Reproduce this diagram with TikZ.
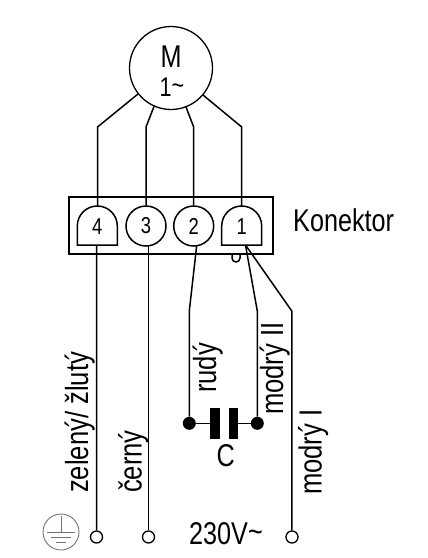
\documentclass[tikz,border=0pt]{standalone}
\usepackage{fontspec}
\setmainfont[FakeStretch=0.8]{Liberation Sans}
\begin{document}
\begin{tikzpicture}[x=1pt,y=-1pt,
  wire/.style={line width=1.5pt,line join=miter},
  shapeline/.style={line width=1.5pt},
  round term/.style={circle,draw,line width=1.5pt,minimum size=40pt,inner sep=0pt,font=\fontsize{23}{23}\selectfont},
  txt/.style={font=\fontsize{31.5}{32}\selectfont,inner sep=0pt},
  term txt/.style={font=\fontsize{23}{23}\selectfont,inner sep=0pt},
  lab/.style={font=\fontsize{32}{32}\selectfont,inner sep=0pt,rotate=90,anchor=base west},
  open end/.style={circle,draw,line width=1.3pt,minimum size=12pt,inner sep=0pt,fill=white},
  joint/.style={circle,fill=black,minimum size=13pt,inner sep=0pt},
  plate/.style={fill=black,draw=none},
  earthline/.style={line width=0.9pt,draw=black!55}]
\useasboundingbox (0,0) rectangle (428,558);
% motor
\node[circle,draw,line width=1.3pt,minimum size=83pt,inner sep=0pt] (motor) at (171,68) {};
\node[txt] (m) at (171,57) {M};
\node[txt,font=\fontsize{27}{27}\selectfont] (one) at (172,87) {1\raisebox{2pt}{\textasciitilde}};
% connector box
\node[draw,line width=1.5pt,minimum width=204pt,minimum height=57pt,inner sep=0pt] (box) at (171,225.5) {};
% knots between motor and box
\coordinate (k4) at (97.5,127);
\coordinate (k3) at (146,127);
\coordinate (k2) at (193.7,127);
\coordinate (k1) at (241.7,127);
% terminals
\draw[shapeline] (77.3,245) -- (77.3,226) arc[start angle=180,end angle=360,radius=20] -- (117.3,245) -- cycle;
\draw[shapeline] (221.7,245) -- (221.7,226) arc[start angle=180,end angle=360,radius=20] -- (261.7,245) -- cycle;
\node[term txt] (t4) at (97.3,227) {4};
\node[round term] (t3) at (146,226) {3};
\node[round term] (t2) at (193.7,226) {2};
\node[term txt] (t1) at (241.7,227) {1};
\coordinate (t4top) at (97.5,206);
\coordinate (t1top) at (241.7,206);
\coordinate (t4bot) at (96.7,245);
\coordinate (t1bot) at (245.5,245);
% motor leads
\draw[wire] (138,94) -- (k4) -- (t4top);
\draw[wire] (154,106.5) -- (k3) -- (t3.north);
\draw[wire] (186,107) -- (k2) -- (t2.north);
\draw[wire] (203,95) -- (k1) -- (t1top);
% notch
\draw[shapeline] (232,254.5) -- (232,258) arc[start angle=180,end angle=0,radius=4] -- (240,254.5);
% ends
\node[open end] (e4) at (96.5,537) {};
\node[open end] (e3) at (148.5,537) {};
\node[open end] (e1) at (292,537) {};
% cap
\node[joint] (j2) at (189.3,423.3) {};
\node[joint] (j1) at (257.3,423.3) {};
\path[plate] (210,407.5) rectangle (220,439);
\path[plate] (229,407.5) rectangle (238.3,439);
\coordinate (p1) at (214,423.3);
\coordinate (p2) at (233,423.3);
\draw[line width=1.2pt] (j2) -- (p1);
\draw[line width=1.2pt] (p2) -- (j1);
% wires to ends
\draw[wire] (t4bot) -- (e4);
\draw[wire] (148.5,246) -- (e3);
\coordinate (b2) at (189.3,311);
\coordinate (b1) at (257.3,311);
\coordinate (b0) at (291.8,311);
\draw[wire] (196.7,245.5) -- (b2) -- (j2);
\draw[wire] (t1bot) -- (b1) -- (j1);
\draw[wire] (t1bot) -- (b0) -- (e1);
% labels
\node[txt,anchor=base west] (konektor) at (293,231) {Konektor};
\node[txt,anchor=base] (c) at (225.7,466) {C};
\node[txt,anchor=base west] (v) at (189,544) {230V\raisebox{2pt}{\textasciitilde}};
\node[lab] (l4) at (88,493) {zelený/ žlutý};
\node[lab] (l3) at (141.7,493) {černý};
\node[lab] (l2) at (216,393) {rudý};
\node[lab] (l1) at (283,415) {modrý II};
\node[lab] (l0) at (321.7,495) {modrý I};
% earth
\node[circle,draw=black!55,line width=0.9pt,minimum size=36pt,inner sep=0pt] (earth) at (61,532) {};
\draw[earthline] (61,516) -- (61,532);
\draw[earthline] (47,532) -- (75,532);
\draw[earthline] (51,537) -- (71,537);
\draw[earthline] (56,542) -- (66,542);
\end{tikzpicture}
\end{document}
